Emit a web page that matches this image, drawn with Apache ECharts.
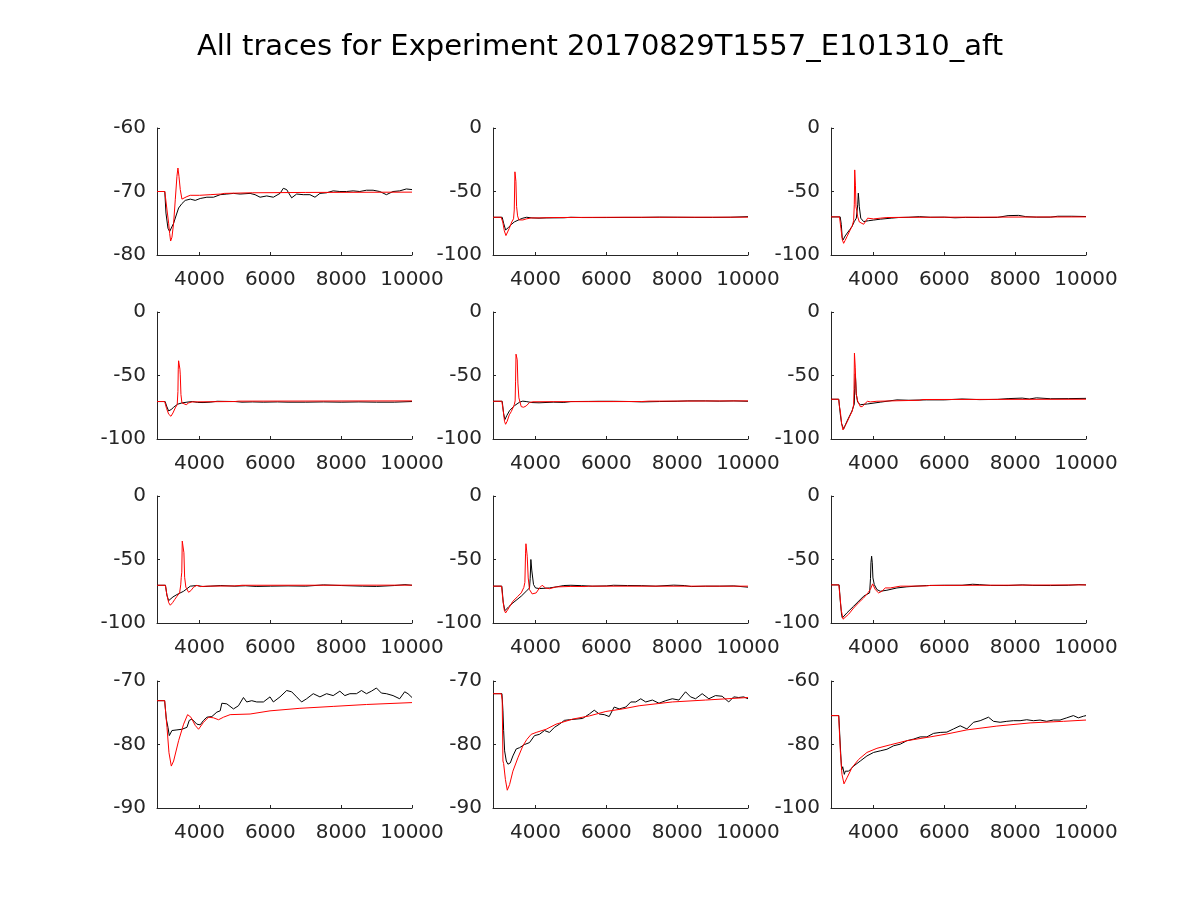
<!DOCTYPE html>
<html>
<head>
<meta charset="utf-8">
<script src="https://cdn.jsdelivr.net/npm/echarts@6/dist/echarts.min.js"></script>
<style>
html,body{margin:0;padding:0;background:#fff;}
#chart{width:1200px;height:900px;}
</style>
</head>
<body>
<div id="chart"></div>
<script>
// ---------- data (time in ms, membrane potential in mV) ----------
const titleText = "All traces for Experiment 20170829T1557_E101310_aft";
const xTicks = [4000, 6000, 8000, 10000];

// y-axis ranges per panel [min, max, interval]
const yRange1 = [-80, -60, 10];
const yRange2 = [-100, 0, 50];
const yRange10 = [-90, -70, 10];
const yRange11 = [-90, -70, 10];
const yRange12 = [-100, -60, 20];

// Panel 1 (row 1, col 1)
const blk1 = [[2800,-70],[3020,-70],[3053,-73.4],[3110,-75.8],[3157,-76.3],[3204,-76],[3269,-75],[3344,-73.7],[3410,-72.6],[3504,-71.9],[3598,-71.4],[3739,-71.2],[3880,-71.4],[4020,-71.1],[4208,-70.9],[4396,-70.9],[4584,-70.5],[4771,-70.4],[4959,-70.3],[5147,-70.4],[5428,-70.3],[5569,-70.5],[5710,-70.9],[5898,-70.7],[6085,-70.9],[6273,-70.3],[6367,-69.5],[6461,-69.7],[6602,-71],[6743,-70.4],[6930,-70.5],[7118,-70.5],[7260,-70.9],[7400,-70.3],[7588,-70.2],[7775,-69.9],[7963,-70],[8150,-70],[8338,-69.9],[8526,-70],[8714,-69.8],[8901,-69.8],[9089,-70],[9277,-70.5],[9465,-70],[9652,-69.9],[9840,-69.6],[10000,-69.7]];
const red1 = [[2800,-70],[3020,-70],[3082,-72.9],[3129,-75],[3157,-76.6],[3185,-77.8],[3222,-77.2],[3269,-75],[3316,-71.3],[3363,-67.6],[3391,-66.3],[3420,-67.6],[3457,-69.7],[3504,-71.2],[3551,-71.4],[3645,-70.8],[3739,-70.6],[4000,-70.6],[4300,-70.5],[4600,-70.4],[4700,-70.3],[5500,-70.2],[7000,-70.15],[10000,-70.1]];

// Panel 2 (row 1, col 2)
const blk2 = [[2800,-70.3],[3060,-70.3],[3100,-75],[3156,-80.3],[3230,-78.5],[3316,-76],[3400,-74],[3456,-73],[3550,-72],[3644,-71],[3750,-70.3],[3900,-70.8],[4100,-71],[4300,-70.8],[4800,-70.7],[5000,-70.3],[5300,-70.5],[5600,-70.5],[6000,-70.5],[6500,-70.4],[7000,-70.4],[7500,-70.2],[8000,-70.3],[8500,-70.4],[9000,-70.4],[9500,-70.3],[10000,-69.8]];
const red2 = [[2800,-70.3],[3030,-70.3],[3075,-74],[3120,-81],[3165,-84.7],[3200,-84.2],[3260,-79],[3330,-74],[3380,-71.5],[3400,-64.5],[3419,-34.5],[3437,-34.5],[3447,-42],[3466,-61.8],[3494,-69.2],[3531,-72.4],[3578,-73.7],[3644,-72.4],[3737,-71.6],[3878,-70.8],[4100,-70.8],[4500,-70.5],[6000,-70.3],[10000,-70.2]];

// Panel 3 (row 1, col 3)
const blk3 = [[2800,-70],[3060,-70],[3091,-76],[3115,-86],[3138,-88.2],[3200,-85],[3251,-83.5],[3330,-80],[3392,-77.6],[3458,-73.7],[3515,-71],[3533,-69.7],[3555,-60],[3571,-51.3],[3585,-56],[3599,-62],[3640,-71],[3721,-73.7],[3860,-73],[4000,-72.5],[4191,-71.8],[4500,-71],[4700,-70.5],[5000,-70.3],[5300,-69.8],[5600,-70.3],[6000,-70.2],[6300,-70.7],[6600,-70.4],[7000,-70.5],[7500,-70.4],[7800,-69],[8100,-68.8],[8300,-69.8],[8600,-70.2],[9000,-70.2],[9200,-69.5],[9600,-69.5],[10000,-69.7]];
const red3 = [[2800,-70],[3040,-70],[3080,-79],[3120,-88],[3157,-90.8],[3200,-88.5],[3251,-85.5],[3330,-81],[3400,-77],[3439,-73],[3458,-60],[3470,-33],[3480,-33],[3490,-45],[3505,-62],[3533,-66],[3555,-70],[3600,-74],[3655,-75.5],[3721,-75.8],[3790,-73],[3834,-71],[3890,-69.7],[4003,-71.6],[4191,-71],[4379,-70.5],[5000,-70.3],[7000,-70.2],[10000,-70]];

// Panel 4 (row 2, col 1)
const blk4 = [[2800,-70.5],[3030,-70.5],[3070,-74],[3128,-77.9],[3200,-76.8],[3270,-75],[3382,-72.6],[3504,-71.6],[3645,-71],[3800,-70.5],[3950,-71.2],[4100,-71.3],[4300,-71],[4500,-70.3],[5000,-70.5],[5200,-71],[5500,-70.8],[5800,-71],[6200,-70.8],[6500,-71],[7000,-71],[7500,-70.8],[8000,-71],[8500,-70.8],[9000,-71],[9500,-71],[10000,-70.5]];
const red4 = [[2800,-70.5],[3016,-70.5],[3070,-76],[3130,-80.5],[3194,-82.1],[3250,-79.5],[3316,-75.5],[3370,-73],[3391,-62.6],[3400,-45],[3410,-38.4],[3438,-38.4],[3447,-45],[3457,-49.5],[3476,-65],[3504,-71.6],[3551,-73],[3626,-73],[3692,-71.6],[3786,-70.8],[4500,-70.6],[5000,-70.5],[5100,-70.2],[10000,-70]];

// Panel 5 (row 2, col 2)
const blk5 = [[2800,-70.3],[3060,-70.3],[3100,-80],[3137,-84.7],[3190,-81.5],[3269,-77.6],[3409,-73.7],[3550,-71],[3640,-70.2],[3737,-70.5],[3900,-71.3],[4100,-71.5],[4500,-71],[4800,-71.2],[5000,-70.5],[5500,-70.4],[5800,-70.3],[6200,-70.3],[6700,-70.5],[7000,-70.8],[7500,-70.5],[8000,-70.3],[8300,-70],[8800,-70],[9200,-70.2],[9600,-70],[10000,-70.3]];
const red5 = [[2800,-70.3],[3050,-70.3],[3090,-78],[3125,-86],[3156,-88.4],[3200,-86],[3260,-81],[3316,-78.4],[3400,-73],[3425,-70],[3437,-55],[3450,-33.2],[3465,-33.5],[3484,-37.6],[3503,-56],[3531,-67.6],[3597,-74.5],[3662,-75],[3737,-74],[3831,-71.3],[3925,-70.7],[4500,-70.6],[7000,-70.5],[7200,-70.2],[10000,-70]];

// Panel 6 (row 2, col 3)
const blk6 = [[2800,-68.7],[3020,-68.7],[3060,-80],[3100,-88],[3157,-92.1],[3251,-86],[3392,-78],[3458,-72.4],[3470,-60],[3486,-48.7],[3500,-55],[3514,-64.5],[3552,-71],[3627,-73],[3834,-72.4],[4191,-71],[4661,-69.2],[5000,-69.5],[5500,-69.2],[6000,-69.2],[6500,-68.5],[7000,-69],[7500,-68.8],[7800,-68.2],[8200,-67.8],[8400,-68.5],[8600,-67.6],[9000,-68.3],[9500,-68.2],[10000,-68]];
const red6 = [[2800,-68.7],[3016,-68.7],[3040,-75],[3063,-78],[3100,-88],[3138,-92.9],[3190,-90],[3251,-86.8],[3330,-82],[3400,-78],[3439,-73],[3450,-61],[3462,-32.4],[3475,-33],[3486,-44],[3505,-62],[3514,-65],[3552,-70],[3627,-74.5],[3684,-74.5],[3768,-71.8],[3834,-70.3],[3909,-70.8],[4097,-70.3],[4500,-70],[5300,-69.5],[5400,-68.9],[10000,-68.7]];

// Panel 7 (row 3, col 1)
const blk7 = [[2800,-70.3],[3040,-70.3],[3080,-78],[3128,-82.4],[3250,-79.5],[3363,-77.6],[3551,-75],[3739,-71],[3926,-70.5],[4100,-71.3],[4300,-71],[4600,-70.5],[5000,-71],[5300,-70.7],[5600,-71.2],[6000,-71],[6500,-70.8],[7000,-71],[7500,-70],[8000,-70.5],[8600,-71],[9000,-71.2],[9500,-70.5],[9800,-69.8],[10000,-70.3]];
const red7 = [[2800,-70.3],[3035,-70.3],[3080,-78],[3130,-84],[3175,-86],[3240,-84],[3300,-81.5],[3363,-79],[3438,-76.3],[3470,-70],[3485,-64],[3500,-60],[3513,-35.5],[3545,-35.5],[3560,-44.7],[3580,-64],[3615,-71.8],[3692,-75.8],[3757,-74.5],[3833,-71.8],[3926,-70.3],[4020,-71.3],[4208,-71],[5000,-70.8],[5200,-70.3],[10000,-70.2]];

// Panel 8 (row 3, col 2)
const blk8 = [[2800,-71],[3050,-71],[3090,-84],[3137,-90.3],[3250,-87],[3362,-84.2],[3597,-78.9],[3737,-75],[3831,-72.4],[3850,-65],[3869,-50],[3897,-59],[3944,-69.7],[4000,-72.4],[4112,-72.9],[4394,-72.4],[4581,-71.6],[4800,-70.5],[5000,-70.3],[5300,-70.6],[5600,-71],[6000,-70.8],[6200,-70.3],[6600,-70.5],[7000,-70.6],[7400,-71],[7900,-70.2],[8200,-70.5],[8400,-71.3],[8800,-71],[9200,-71],[9600,-70.8],[10000,-71.8]];
const red8 = [[2800,-71],[3040,-71],[3080,-82],[3120,-90],[3156,-92.1],[3250,-88],[3362,-82.9],[3500,-79],[3597,-76.3],[3670,-72],[3700,-68],[3719,-45],[3730,-37.6],[3745,-37.6],[3766,-47.4],[3794,-64.5],[3831,-73.7],[3906,-77.1],[4019,-76.3],[4112,-72.4],[4187,-70.3],[4281,-72.4],[4394,-73],[4581,-71.6],[5000,-71.2],[5400,-71.3],[5500,-71],[10000,-71]];

// Panel 9 (row 3, col 3)
const blk9 = [[2800,-70],[3030,-70],[3060,-82],[3100,-94],[3120,-96],[3250,-92],[3439,-86.8],[3721,-78.9],[3890,-76.3],[3915,-65],[3928,-52.6],[3947,-47.4],[3966,-52.6],[3984,-64.5],[4022,-69.7],[4097,-73.7],[4191,-75],[4379,-74.2],[4661,-72.4],[4943,-71.5],[5200,-71],[5500,-70.5],[6000,-70.3],[6500,-70.3],[6800,-69.5],[7000,-69.8],[7300,-70.4],[7800,-70.5],[8200,-70],[8500,-70.4],[9000,-70.5],[9500,-70.3],[9800,-69.8],[10000,-70]];
const red9 = [[2800,-70],[3020,-70],[3050,-78],[3090,-90],[3140,-97],[3176,-98.2],[3300,-93],[3439,-88.2],[3580,-84],[3721,-80.3],[3850,-76],[3909,-73.7],[3975,-69.2],[4050,-73.7],[4144,-76.3],[4238,-75],[4332,-72.4],[4473,-72.4],[4755,-71],[5000,-71],[5500,-70.8],[5600,-70.4],[10000,-70]];

// Panel 10 (row 4, col 1)
const blk10 = [[2800,-73.1],[3016,-73.1],[3063,-76],[3110,-77.3],[3147,-78.6],[3222,-77.8],[3363,-77.7],[3504,-77.6],[3645,-77.3],[3711,-76.2],[3786,-76],[3833,-76.2],[3926,-76.8],[4020,-76.9],[4114,-76.2],[4208,-75.7],[4349,-75.6],[4490,-74.9],[4584,-74.7],[4631,-73.5],[4771,-73.6],[4959,-74.4],[5100,-73.9],[5241,-72.6],[5334,-73.3],[5475,-73.1],[5616,-73.3],[5804,-73.3],[5991,-72.5],[6085,-73.3],[6273,-72.5],[6461,-71.5],[6602,-71.7],[6743,-72.5],[6883,-73.3],[7024,-72.8],[7212,-72],[7400,-72.5],[7588,-72],[7775,-72.3],[7963,-71.6],[8104,-72.3],[8245,-72],[8432,-72],[8573,-71.5],[8714,-72],[8855,-71.6],[8995,-71.1],[9136,-71.9],[9277,-72],[9465,-72.3],[9652,-72.8],[9793,-71.7],[9887,-72],[10000,-72.6]];
const red10 = [[2800,-73.1],[3016,-73.1],[3082,-77.3],[3138,-81.3],[3204,-83.4],[3269,-82.6],[3410,-79.4],[3551,-76.8],[3664,-75.3],[3757,-75.7],[3880,-77],[3973,-77.6],[4114,-76.5],[4255,-75.7],[4396,-75.8],[4537,-76.1],[4677,-75.7],[4865,-75.3],[5428,-75.2],[5991,-74.7],[6836,-74.3],[7775,-74],[8714,-73.7],[10000,-73.4]];

// Panel 11 (row 4, col 2)
const blk11 = [[2800,-72],[3053,-72],[3081,-74.7],[3100,-77.8],[3128,-81],[3175,-82.6],[3222,-83.1],[3288,-82.9],[3362,-81.8],[3456,-80.7],[3550,-80.5],[3691,-80],[3831,-79.7],[3972,-78.6],[4112,-78.4],[4253,-77.8],[4394,-78.1],[4534,-77.3],[4675,-76.8],[4816,-76.2],[4956,-76.1],[5144,-76],[5331,-75.9],[5519,-75.2],[5659,-74.6],[5800,-75.2],[5941,-75.3],[6081,-75.6],[6222,-74.1],[6363,-74.4],[6550,-74.1],[6691,-73.3],[6831,-73.3],[6972,-72.8],[7112,-73.3],[7300,-73],[7487,-73.5],[7675,-73.1],[7862,-72.8],[8050,-73],[8237,-71.7],[8378,-72.5],[8519,-72.8],[8706,-72],[8894,-72.8],[9081,-72.3],[9269,-72.4],[9456,-73.3],[9597,-72.5],[9737,-72.6],[9878,-72.5],[10000,-72.8]];
const red11 = [[2800,-72],[3034,-72],[3060,-73],[3081,-82.6],[3100,-83],[3150,-85.5],[3203,-87.2],[3269,-86.3],[3362,-84.2],[3503,-82.1],[3644,-80.2],[3756,-79.2],[3878,-78.4],[4019,-78.1],[4300,-77.6],[4581,-76.8],[5050,-76],[5519,-75.5],[5987,-74.8],[6456,-74.4],[6925,-73.9],[7862,-73.3],[8800,-73],[10000,-72.6]];

// Panel 12 (row 4, col 3)
const blk12 = [[2800,-70.9],[3020,-70.9],[3070,-82],[3100,-88],[3130,-87],[3176,-89.4],[3204,-88.4],[3298,-88.4],[3439,-86.8],[3627,-85.2],[3815,-83.6],[4003,-82.5],[4191,-82],[4379,-81.5],[4567,-80.4],[4755,-79.9],[4943,-78.8],[5131,-78.3],[5319,-77.6],[5507,-77.6],[5695,-76.5],[5883,-76.2],[6071,-76.1],[6259,-75.1],[6447,-74.1],[6636,-75.1],[6824,-73],[7012,-72.5],[7247,-71.4],[7388,-72.7],[7576,-73],[7764,-72.7],[7952,-72.5],[8139,-72.5],[8327,-72.2],[8515,-72.5],[8703,-72.3],[8891,-72.7],[9079,-72.3],[9267,-72.3],[9455,-71.6],[9643,-70.9],[9784,-71.6],[9925,-71.1],[10000,-70.9]];
const red12 = [[2800,-70.9],[3016,-70.9],[3063,-82],[3110,-89.4],[3167,-92.4],[3251,-90.5],[3392,-87.3],[3580,-84.7],[3815,-82.5],[4097,-81.2],[4473,-80.1],[4943,-78.8],[5600,-77.6],[6071,-76.7],[6636,-75.4],[7482,-74.2],[8421,-73.2],[9361,-72.7],[10000,-72.3]];

const panels = [
  {blk: blk1, red: red1, y: yRange1},
  {blk: blk2, red: red2, y: yRange2},
  {blk: blk3, red: red3, y: yRange2},
  {blk: blk4, red: red4, y: yRange2},
  {blk: blk5, red: red5, y: yRange2},
  {blk: blk6, red: red6, y: yRange2},
  {blk: blk7, red: red7, y: yRange2},
  {blk: blk8, red: red8, y: yRange2},
  {blk: blk9, red: red9, y: yRange2},
  {blk: blk10, red: red10, y: yRange10},
  {blk: blk11, red: red11, y: yRange11},
  {blk: blk12, red: red12, y: yRange12}
];

// ---------- layout ----------
const colLeft = [157, 493, 831];
const rowTop = [128, 312, 496, 681];
const gridW = 255, gridH = 127;
const axisColor = '#262626';
const fontFamily = 'DejaVu Sans';
const plain = v => String(v);

const grids = [], xAxes = [], yAxes = [], series = [];
panels.forEach((p, i) => {
  const r = Math.floor(i / 3), c = i % 3;
  grids.push({left: colLeft[c], top: rowTop[r], width: gridW, height: gridH, containLabel: false});
  xAxes.push({
    type: 'value', gridIndex: i, min: 2800, max: 10000,
    axisLine: {show: true, onZero: false, lineStyle: {color: axisColor, width: 1}},
    axisTick: {show: true, inside: true, length: 3, customValues: xTicks, lineStyle: {color: axisColor}},
    axisLabel: {show: true, customValues: xTicks, formatter: plain, margin: 15, fontSize: 20, color: axisColor, fontFamily: fontFamily},
    splitLine: {show: false}
  });
  yAxes.push({
    type: 'value', gridIndex: i, min: p.y[0], max: p.y[1], interval: p.y[2],
    axisLine: {show: true, onZero: false, lineStyle: {color: axisColor, width: 1}},
    axisTick: {show: true, inside: true, length: 3, lineStyle: {color: axisColor}},
    axisLabel: {show: true, formatter: plain, margin: 11, fontSize: 20, color: axisColor, fontFamily: fontFamily},
    splitLine: {show: false}
  });
  series.push({
    type: 'line', xAxisIndex: i, yAxisIndex: i, data: p.blk, showSymbol: false,
    lineStyle: {color: '#000000', width: 1}, itemStyle: {color: '#000000'}, z: 2, silent: true
  });
  series.push({
    type: 'line', xAxisIndex: i, yAxisIndex: i, data: p.red, showSymbol: false,
    lineStyle: {color: '#ff0000', width: 1}, itemStyle: {color: '#ff0000'}, z: 3, silent: true
  });
});

const chart = echarts.init(document.getElementById('chart'), null, {renderer: 'canvas'});
chart.setOption({
  animation: false,
  backgroundColor: '#ffffff',
  title: {
    text: titleText, left: 'center', top: 28,
    textStyle: {fontSize: 29, fontWeight: 'normal', color: '#000000', fontFamily: fontFamily}
  },
  grid: grids, xAxis: xAxes, yAxis: yAxes, series: series
});
</script>
</body>
</html>
